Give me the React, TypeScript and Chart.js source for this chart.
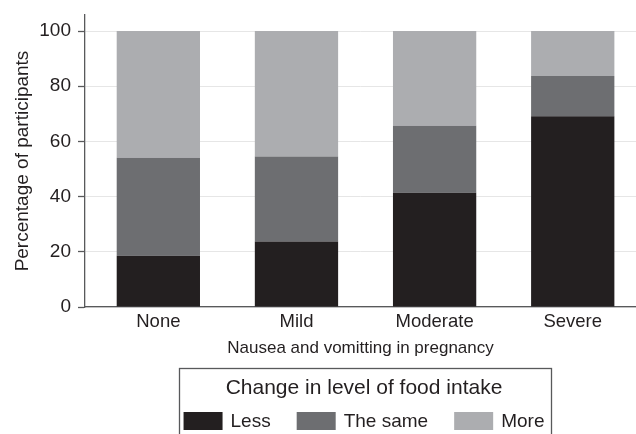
import React, { useEffect, useRef } from "react";
import { Chart, registerables } from "chart.js";

Chart.register(...registerables);

const categories = ["None", "Mild", "Moderate", "Severe"];
const seriesLabels = ["Less", "The same", "More"];
const lessValues = [18.6, 23.7, 41.4, 69.1];
const sameValues = [35.5, 30.8, 24.3, 14.6];
const moreValues = [45.9, 45.5, 34.3, 16.3];
const yTickValues = [0, 20, 40, 60, 80, 100];
const seriesColors = ["#231f20", "#6d6e71", "#acadb0"];
const legendTitle = "Change in level of food intake";
const xTitle = "Nausea and vomitting in pregnancy";
const yTitle = "Percentage of participants";

const FONT = "'Liberation Sans', Arial, Helvetica, sans-serif";
const TEXT = "#231f20";
const AXIS = "#58595b";

const boxedLegend = {
  id: "boxedLegend",
  afterDraw(chart: any) {
    const ctx = chart.ctx as CanvasRenderingContext2D;
    const cx = 364;
    ctx.save();
    ctx.strokeStyle = AXIS;
    ctx.lineWidth = 1.3;
    ctx.strokeRect(179.5, 368.5, 372, 100);
    ctx.fillStyle = TEXT;
    ctx.font = `21px ${FONT}`;
    ctx.textAlign = "center";
    ctx.textBaseline = "middle";
    ctx.fillText(legendTitle, cx, 388.5);
    ctx.font = `19px ${FONT}`;
    const boxW = 39;
    const boxH = 18;
    const gap = 8;
    const itemGap = 26;
    const items = chart.data.datasets.map((ds: any) => ({
      text: ds.label as string,
      color: ds.backgroundColor as string,
      w: boxW + gap + ctx.measureText(ds.label).width,
    }));
    const total =
      items.reduce((s: number, it: any) => s + it.w, 0) + itemGap * (items.length - 1);
    let x = cx - total / 2;
    ctx.textAlign = "left";
    items.forEach((it: any) => {
      ctx.fillStyle = it.color;
      ctx.fillRect(x, 412, boxW, boxH);
      ctx.fillStyle = TEXT;
      ctx.fillText(it.text, x + boxW + gap, 422);
      x += it.w + itemGap;
    });
    ctx.restore();
  },
};

export default function App() {
  const ref = useRef<HTMLCanvasElement | null>(null);

  useEffect(() => {
    document.body.style.margin = "0";
    const canvas = ref.current;
    if (!canvas) return;
    const seriesValues = [lessValues, sameValues, moreValues];
    const chart = new Chart(canvas, {
      type: "bar",
      data: {
        labels: categories,
        datasets: seriesLabels.map((label, k) => ({
          label,
          data: categories.map((_, i) => ({ x: i, y: seriesValues[k][i] })),
          backgroundColor: seriesColors[k],
          borderWidth: 0,
        })),
      },
      options: {
        responsive: false,
        animation: false,
        layout: { padding: { left: 9, top: 15, right: 0, bottom: 75.8 } },
        plugins: { legend: { display: false }, tooltip: { enabled: false } },
        datasets: { bar: { barPercentage: 0.603, categoryPercentage: 1 } },
        scales: {
          x: {
            type: "linear",
            offset: false,
            stacked: true,
            min: -0.531,
            max: 3.458,
            afterBuildTicks: (s: any) => {
              s.ticks = categories.map((_, i) => ({ value: i }));
            },
            afterFit: (s: any) => {
              s.paddingLeft = 0;
              s.paddingRight = 0;
            },
            ticks: {
              autoSkip: false,
              maxRotation: 0,
              padding: 3.6,
              color: TEXT,
              font: { family: FONT, size: 18.5 },
              callback: (v: any) => categories[v as number] ?? "",
            },
            grid: { display: false, drawTicks: false, offset: false },
            border: { display: true, color: AXIS, width: 1.3 },
            title: {
              display: true,
              text: xTitle,
              color: TEXT,
              font: { family: FONT, size: 17 },
              padding: { top: 1.4, bottom: 0 },
            },
          },
          y: {
            stacked: true,
            min: 0,
            max: 105.8,
            afterBuildTicks: (s: any) => {
              s.ticks = yTickValues.map((v) => ({ value: v }));
            },
            afterFit: (s: any) => {
              s.paddingTop = 0;
              s.paddingBottom = 0;
            },
            ticks: { padding: 7, color: TEXT, font: { family: FONT, size: 19 } },
            grid: {
              color: "#e6e6e6",
              lineWidth: 1,
              tickLength: 7,
              tickColor: AXIS,
              tickWidth: 1.3,
            },
            border: { display: true, color: AXIS, width: 1.3 },
            title: {
              display: true,
              text: yTitle,
              color: TEXT,
              font: { family: FONT, size: 19 },
              padding: { top: 2, bottom: -1.5 },
            },
          },
        },
      } as any,
      plugins: [boxedLegend],
    });
    return () => chart.destroy();
  }, []);

  return (
    <div style={{ position: "absolute", left: 0, top: 0, width: 636, height: 434, background: "#fff" }}>
      <canvas ref={ref} width={636} height={434} style={{ width: 636, height: 434, display: "block" }} />
    </div>
  );
}
